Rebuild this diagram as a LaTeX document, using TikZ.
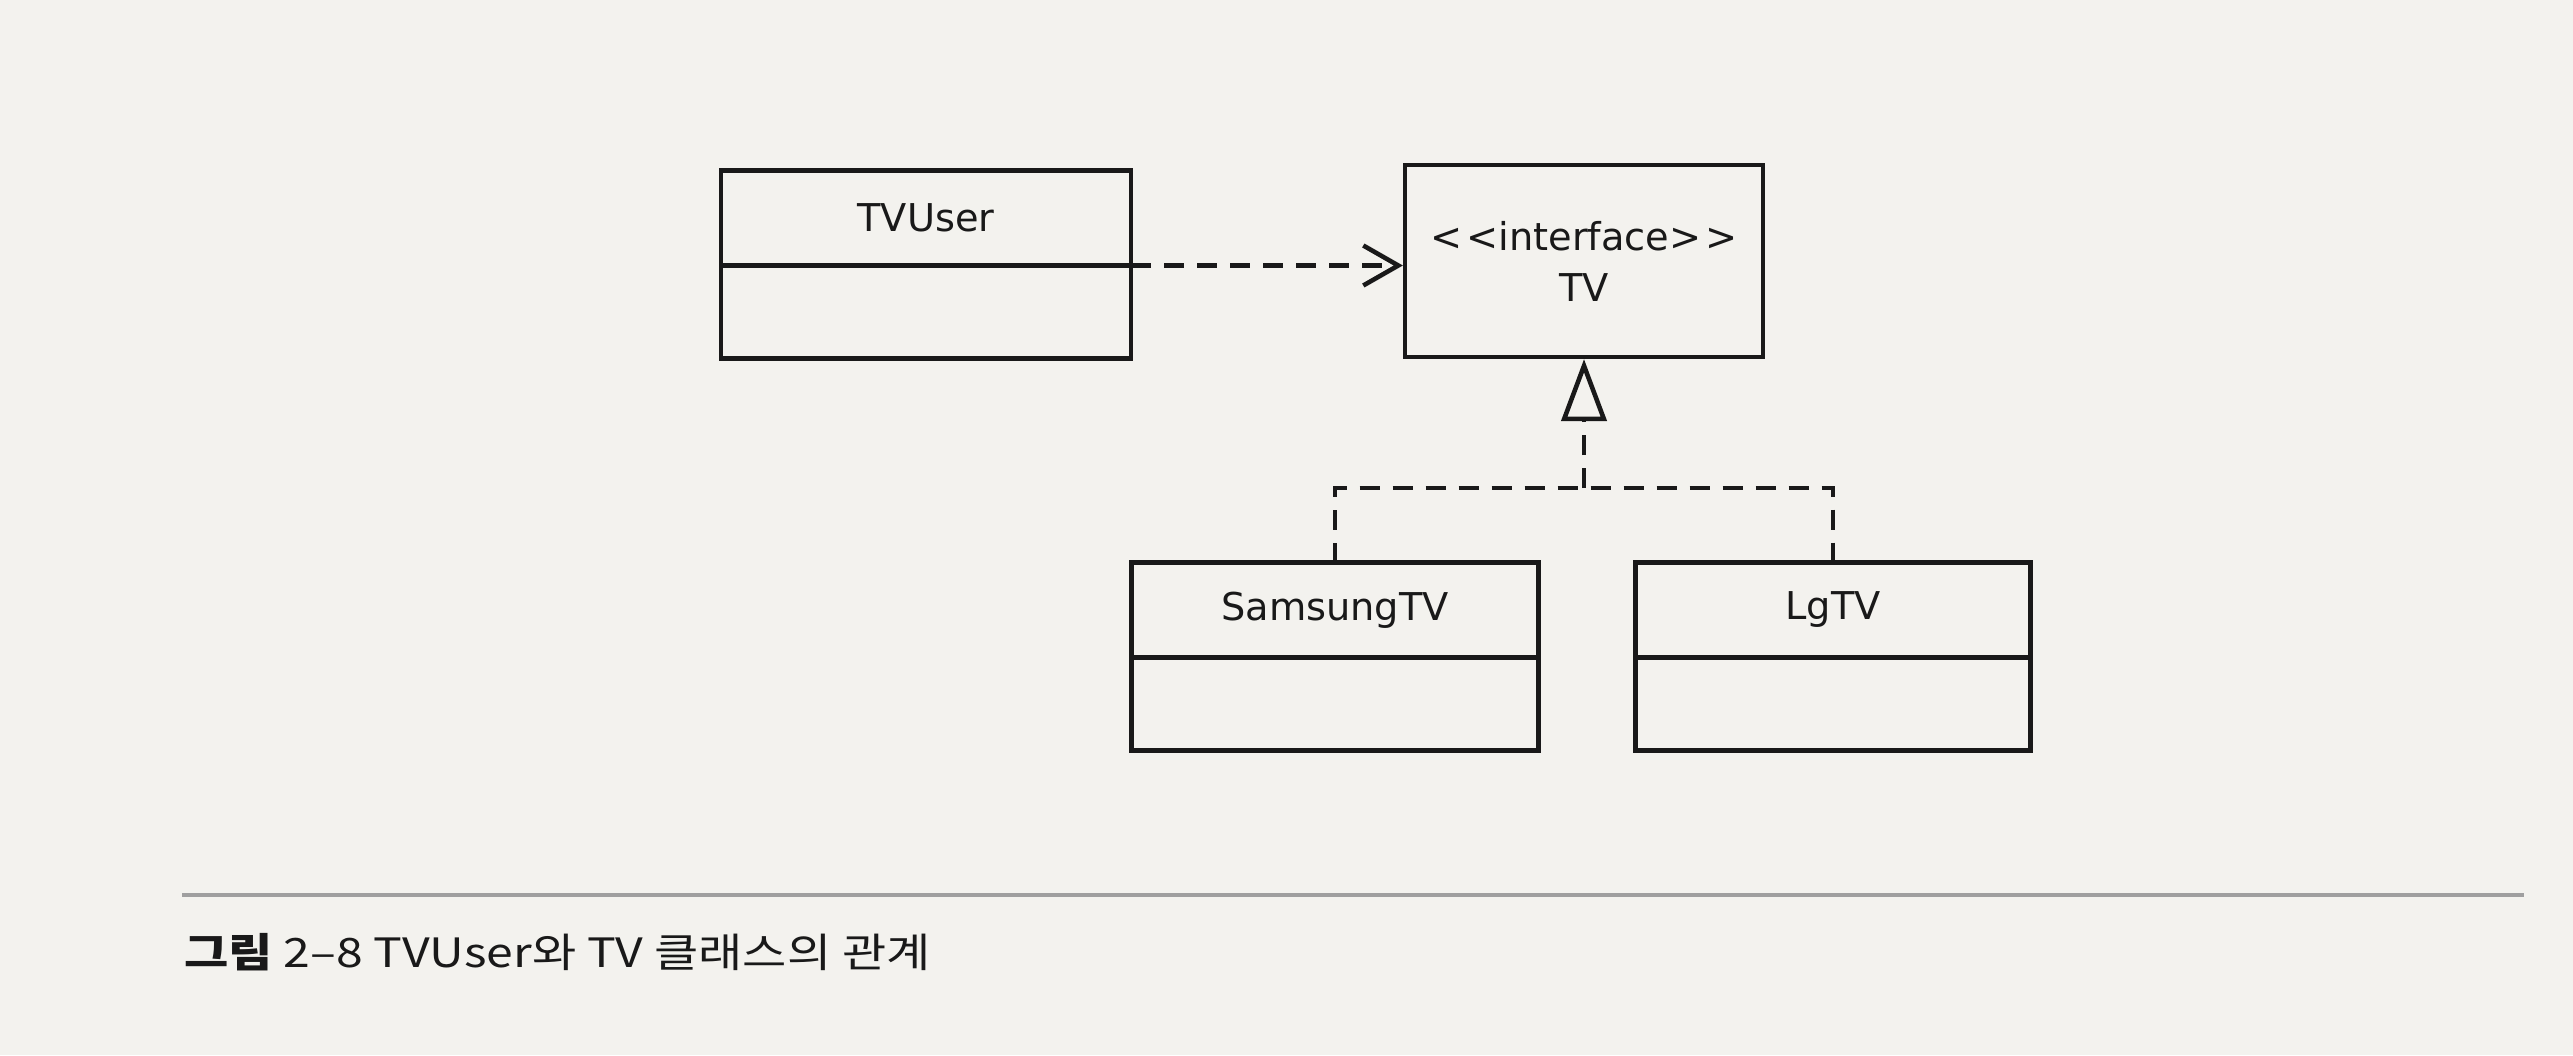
\documentclass[tikz,border=0pt]{standalone}
\usepackage{fontspec}
\setmainfont{DejaVu Sans}
\newfontfamily\krfont[FakeStretch=1.19]{Noto Sans CJK KR}
\usetikzlibrary{arrows.meta,positioning}

\definecolor{paper}{RGB}{243,242,238}
\definecolor{ink}{RGB}{25,25,25}

\tikzstyle{classname}=[draw=ink, line width=1.2pt, outer sep=0pt, minimum height=0.95cm, inner sep=0pt, font=\fontsize{10.9}{13}\selectfont, text=ink]
\tikzstyle{classbody}=[draw=ink, line width=1.2pt, outer sep=0pt, minimum height=0.93cm, inner sep=0pt]
\tikzstyle{iface}=[draw=ink, line width=1.2pt, minimum height=1.92cm, minimum width=3.58cm, inner sep=0pt, align=center, font=\fontsize{10.9}{14.5}\selectfont, text=ink]
\tikzstyle{dep}=[draw=ink, line width=1.3pt, dash pattern=on 0.2cm off 0.13cm, -{Straight Barb[length=3.5mm, width=4mm]}]
\tikzstyle{real}=[draw=ink, line width=1.3pt, dash pattern=on 0.2cm off 0.13cm]

\begin{document}
\begin{tikzpicture}
      \useasboundingbox[fill=paper] (0, 0) rectangle (25.73, 10.55);

      \node[classname, minimum width=4.10cm] (tvuser) at (9.26, 8.37) {TVUser};
      \node[classbody, minimum width=4.10cm, below=0pt of tvuser] (tvuserb) {};
      \node[iface] (tv) at (15.84, 7.94) {<\kern1pt<interface>\kern1pt>\\TV};

      \node[classname, minimum width=4.07cm] (samsung) at (13.35, 4.45) {SamsungTV};
      \node[classbody, minimum width=4.07cm, below=0pt of samsung] (samsungb) {};
      \node[classname, minimum width=3.95cm] (lgtv) at (18.33, 4.45) {LgTV};
      \node[classbody, minimum width=3.95cm, below=0pt of lgtv] (lgtvb) {};

      \coordinate (bus) at (15.84, 5.67);

      \draw[dep] (tvuser.south east) to (tv.west |- tvuser.south east);
      \draw[real] (samsung.north) |- (bus) -| (lgtv.north);
      \draw[real, -{Triangle[open, length=6.2mm, width=4.5mm]}] (bus) to (tv.south);

      % caption
      \draw[gray!75, line width=0.9pt] (1.82, 1.60) -- (25.24, 1.60);
      \node[anchor=base west, inner sep=0pt, text=ink, font=\krfont\fontsize{11.5}{14}\selectfont] (caption) at (1.84, 0.88) {\textbf{그림} 2–8 TVUser와 TV 클래스의 관계};
    \end{tikzpicture}
\end{document}
